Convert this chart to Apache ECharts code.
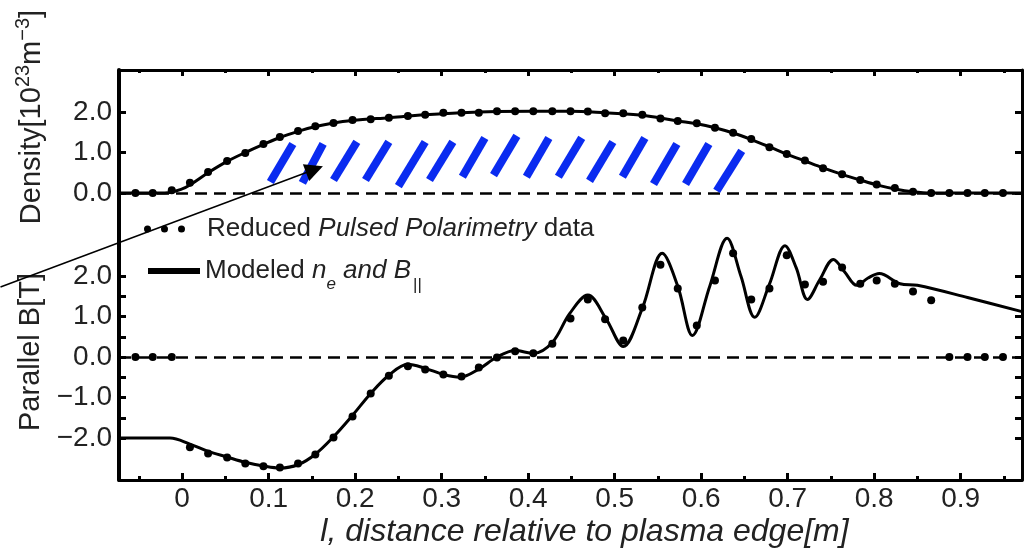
<!DOCTYPE html>
<html>
<head>
<meta charset="utf-8">
<script src="https://cdn.jsdelivr.net/npm/echarts@6.0.0/dist/echarts.min.js"></script>
<style>
    html, body { margin: 0; padding: 0; background: #fff; }
    #chart { width: 1034px; height: 551px; }
</style>
</head>
<body>
<div id="chart"></div>
<script>
// positions of the polarimetry samples along the chord [m]
const sampleX = [-0.054, -0.034, -0.012, 0.009, 0.030, 0.052, 0.073, 0.094, 0.113, 0.134,
    0.154, 0.175, 0.197, 0.218, 0.239, 0.261, 0.281, 0.302, 0.323, 0.343,
    0.364, 0.385, 0.406, 0.428, 0.449, 0.469, 0.489, 0.510, 0.532, 0.553,
    0.573, 0.595, 0.616, 0.637, 0.658, 0.679, 0.699, 0.720, 0.741, 0.763,
    0.784, 0.803, 0.824, 0.845, 0.866, 0.887, 0.908, 0.928, 0.949]
// reduced data, density [1e23 m^-3]
const densityDots = [0, 0, 0.07, 0.25, 0.52, 0.79, 0.99, 1.21, 1.38, 1.53,
    1.65, 1.73, 1.80, 1.82, 1.86, 1.90, 1.93, 1.98, 1.98, 1.98,
    2.02, 2.02, 2.02, 2.02, 2.02, 2.01, 1.97, 1.97, 1.93, 1.84,
    1.78, 1.72, 1.61, 1.49, 1.33, 1.13, 0.96, 0.80, 0.61, 0.46,
    0.32, 0.21, 0.12, 0.03, 0, 0, 0, 0, 0]
// reduced data, parallel B [T]
const bDots = [0, 0, 0, -2.23, -2.38, -2.48, -2.63, -2.70, -2.73, -2.63,
    -2.41, -1.99, -1.47, -0.90, -0.46, -0.23, -0.31, -0.43, -0.48, -0.26,
    -0.01, 0.14, 0.09, 0.33, 0.95, 1.42, 0.93, 0.41, 1.22, 2.28,
    1.69, 0.78, 1.89, 2.56, 1.42, 1.69, 2.51, 1.79, 1.86, 2.21,
    1.81, 1.89, 1.81, 1.62, 1.40, 0, 0, 0, 0]

// modeled profiles
const modelDensityX = [-0.073, -0.02, 0.0, 0.009, 0.030, 0.052, 0.073, 0.094, 0.113, 0.134,
    0.154, 0.175, 0.197, 0.239, 0.281, 0.323, 0.364, 0.406, 0.449, 0.489,
    0.532, 0.553, 0.573, 0.595, 0.616, 0.637, 0.658, 0.679, 0.699, 0.720,
    0.741, 0.763, 0.784, 0.803, 0.824, 0.845, 0.866, 0.971]
const modelDensity = [0, 0, 0.1, 0.2, 0.5, 0.78, 1.0, 1.2, 1.37, 1.52,
    1.64, 1.73, 1.79, 1.86, 1.93, 1.98, 2.01, 2.02, 2.02, 1.98,
    1.92, 1.85, 1.78, 1.71, 1.61, 1.48, 1.32, 1.14, 0.96, 0.79,
    0.62, 0.46, 0.32, 0.2, 0.1, 0.03, 0, 0]
const modelBX = [-0.073, -0.014, 0.009, 0.030, 0.052, 0.073, 0.094, 0.113, 0.134, 0.154,
    0.175, 0.197, 0.218, 0.239, 0.261, 0.281, 0.302, 0.321, 0.343, 0.364,
    0.385, 0.406, 0.428, 0.448, 0.469, 0.490, 0.510, 0.532, 0.555, 0.573,
    0.590, 0.610, 0.630, 0.646, 0.662, 0.679, 0.697, 0.710, 0.723, 0.737,
    0.753, 0.766, 0.780, 0.793, 0.806, 0.830, 0.850, 0.908, 0.971]
const modelB = [-2.0, -2.0, -2.15, -2.33, -2.47, -2.6, -2.69, -2.74, -2.66, -2.4,
    -1.97, -1.44, -0.9, -0.45, -0.18, -0.28, -0.43, -0.5, -0.3, 0.0,
    0.16, 0.09, 0.36, 1.07, 1.53, 0.95, 0.26, 1.2, 2.56, 1.75,
    0.53, 1.75, 2.93, 2.0, 0.98, 1.8, 2.75, 2.2, 1.42, 1.9,
    2.41, 2.1, 1.77, 1.95, 2.06, 1.81, 1.77, 1.47, 1.12]

// blue hatch strokes in the density panel: [x, n] at lower and upper end
const hatchLow = [[0.102, 0.27], [0.139, 0.25], [0.175, 0.32], [0.212, 0.32], [0.250, 0.17],
    [0.286, 0.32], [0.324, 0.40], [0.360, 0.44], [0.398, 0.40], [0.435, 0.40],
    [0.471, 0.30], [0.509, 0.40], [0.545, 0.22], [0.582, 0.22], [0.618, 0.05]]
const hatchHigh = [[0.128, 1.21], [0.163, 1.21], [0.202, 1.26], [0.239, 1.26], [0.281, 1.26],
    [0.313, 1.26], [0.350, 1.36], [0.387, 1.41], [0.424, 1.36], [0.462, 1.36],
    [0.498, 1.26], [0.535, 1.36], [0.572, 1.21], [0.609, 1.21], [0.647, 1.04]]
// arrow from outside the frame to the hatched region
const arrowFrom = [-0.210, -2.32]
const arrowTo = [0.153, 0.58]

const xTicks = [0, 0.1, 0.2, 0.3, 0.4, 0.5, 0.6, 0.7, 0.8, 0.9]
const xMinorTicks = [-0.05, 0.05, 0.15, 0.25, 0.35, 0.45, 0.55, 0.65, 0.75, 0.85, 0.95]
const densityTicks = [0, 1, 2]
const bTicks = [-2, -1.5, -1, -0.5, 0, 0.5, 1, 1.5, 2]
const bLabels = [-2, -1, 0, 1, 2]

const dotsName = 'Reduced Pulsed Polarimetry data'
const lineName = 'Modeled n_e and B_||'
const font = '"Liberation Sans", Arial, sans-serif'
const textColor = '#222'

const zip = (xs, ys) => xs.map((x, i) => [x, ys[i]])
const fmt = v => (v === 0 ? '0.0' : (v < 0 ? '\u2212' : '') + Math.abs(v).toFixed(1))

function xAxisFor(grid, position, ticks, tickLen, main) {
    return {
        type: 'value', gridIndex: grid, position: position,
        min: -0.073, max: 0.971,
        splitLine: {show: false},
        axisLine: {show: main, onZero: false, lineStyle: {color: '#000', width: 3}},
        axisTick: {inside: true, length: tickLen, customValues: ticks, lineStyle: {color: '#000', width: 3}},
        axisLabel: {show: false},
    }
}

function yAxisFor(grid, position, min, max, ticks, labels) {
    return {
        type: 'value', gridIndex: grid, position: position,
        min: min, max: max,
        splitLine: {show: false},
        axisLine: {show: true, onZero: false, lineStyle: {color: '#000', width: position === 'left' ? 4 : 3}},
        axisTick: {inside: true, length: 7, customValues: ticks, lineStyle: {color: '#000', width: 3}},
        axisLabel: labels ? {
            customValues: labels, formatter: fmt, margin: 7,
            fontSize: 28, fontFamily: font, color: textColor,
        } : {show: false},
    }
}

const zeroLine = {
    silent: true, symbol: ['none', 'none'], label: {show: false},
    lineStyle: {color: '#000', width: 2.5, type: [12, 7]},
    data: [{yAxis: 0}],
}

let myChart = echarts.init(document.getElementById('chart'))

const xBottom = xAxisFor(1, 'bottom', xTicks, 7, true)
xBottom.axisLabel = {
    show: true, customValues: xTicks, margin: 5,
    formatter: v => (v === 0 ? '0' : v.toFixed(1)),
    fontSize: 28, fontFamily: font, color: textColor,
}
xBottom.name = 'l, distance relative to plasma edge[m]'
xBottom.nameLocation = 'middle'
xBottom.nameGap = 36
xBottom.nameTextStyle = {fontSize: 32, fontStyle: 'italic', fontFamily: font, color: textColor, padding: [0, 0, 0, 28]}

const yDensity = yAxisFor(0, 'left', -0.519, 3.037, densityTicks, densityTicks)
yDensity.name = '{n|Density[10}{sup|23}{n|m}{sup|\u22123}{n|]}'
yDensity.nameLocation = 'middle'
yDensity.nameGap = 68
yDensity.nameTextStyle = {
    padding: [0, 0, 0, 50],
    rich: {
        n: {fontSize: 29, fontFamily: font, color: textColor},
        sup: {fontSize: 20, fontFamily: font, color: textColor, padding: [0, 0, 18, 0]},
    },
}
const yB = yAxisFor(1, 'left', -3.037, 3.531, bTicks, bLabels)
yB.name = 'Parallel B[T]'
yB.nameLocation = 'middle'
yB.nameGap = 68
yB.nameTextStyle = {fontSize: 29, fontFamily: font, color: textColor, padding: [0, 10, 0, 0]}

myChart.setOption({
    animation: false,
    backgroundColor: '#fff',
    grid: [
        {left: 119, right: 12, top: 70, height: 144},
        {left: 119, right: 12, top: 214, height: 266},
    ],
    xAxis: [
        xAxisFor(0, 'top', xTicks, 6, true),
        xAxisFor(0, 'top', xMinorTicks, 3, false),
        xBottom,
        xAxisFor(1, 'bottom', xMinorTicks, 4, false),
    ],
    yAxis: [
        yDensity,
        yAxisFor(0, 'right', -0.519, 3.037, densityTicks, null),
        yB,
        yAxisFor(1, 'right', -3.037, 3.531, bTicks, null),
    ],
    legend: [
        {
            data: [{
                name: dotsName,
                icon: 'path://M0,3.5a3.5,3.5 0 1,0 7,0a3.5,3.5 0 1,0 -7,0M17,3.5a3.5,3.5 0 1,0 7,0a3.5,3.5 0 1,0 -7,0M34,3.5a3.5,3.5 0 1,0 7,0a3.5,3.5 0 1,0 -7,0',
            }],
            left: 144, top: 216, padding: 0,
            itemWidth: 41, itemHeight: 7, selectedMode: false,
            formatter: () => '{gap|}{n|Reduced }{i|Pulsed Polarimetry}{n| data}',
            textStyle: {
                rich: {
                    gap: {width: 17},
                    n: {fontSize: 26, fontFamily: font, color: textColor},
                    i: {fontSize: 26, fontFamily: font, fontStyle: 'italic', color: textColor},
                },
            },
        },
        {
            data: [{name: lineName, icon: 'rect'}],
            left: 148, top: 258, padding: 0,
            itemWidth: 52, itemHeight: 6, selectedMode: false,
            formatter: () => '{n|Modeled }{i|n}{isub|e}{i| and B}{sub|||}',
            textStyle: {
                rich: {
                    n: {fontSize: 26, fontFamily: font, color: textColor},
                    i: {fontSize: 26, fontFamily: font, fontStyle: 'italic', color: textColor},
                    isub: {fontSize: 17, fontFamily: font, fontStyle: 'italic', color: textColor, padding: [26, 0, 0, 0]},
                    sub: {fontSize: 17, fontFamily: font, color: textColor, padding: [28, 0, 0, 2]},
                },
            },
        },
    ],
    series: [
        {
            name: lineName, type: 'line', xAxisIndex: 0, yAxisIndex: 0,
            data: zip(modelDensityX, modelDensity),
            smooth: 0.35, symbol: 'none', color: '#000',
            lineStyle: {color: '#000', width: 3},
            markLine: zeroLine,
        },
        {
            name: dotsName, type: 'scatter', xAxisIndex: 0, yAxisIndex: 0,
            data: zip(sampleX, densityDots),
            symbolSize: 8, itemStyle: {color: '#000', opacity: 1}, z: 4,
        },
        {
            name: lineName, type: 'line', xAxisIndex: 2, yAxisIndex: 2,
            data: zip(modelBX, modelB),
            smooth: 0.35, symbol: 'none', color: '#000',
            lineStyle: {color: '#000', width: 3},
            markLine: zeroLine,
        },
        {
            name: dotsName, type: 'scatter', xAxisIndex: 2, yAxisIndex: 2,
            data: zip(sampleX, bDots),
            symbolSize: 8, itemStyle: {color: '#000', opacity: 1}, z: 4,
        },
        {
            type: 'lines', coordinateSystem: 'cartesian2d', xAxisIndex: 0, yAxisIndex: 0,
            silent: true, z: 5,
            data: hatchLow.map((p, i) => ({coords: [p, hatchHigh[i]]})),
            lineStyle: {color: '#0a2bf0', width: 8, opacity: 1, curveness: 0},
        },
        {
            type: 'lines', coordinateSystem: 'cartesian2d', xAxisIndex: 0, yAxisIndex: 0,
            silent: true, clip: false, z: 6,
            symbol: ['none', 'triangle'], symbolSize: 18,
            data: [{coords: [arrowFrom, arrowTo]}],
            lineStyle: {color: '#000', width: 1.5, opacity: 1, curveness: 0},
        },
    ],
})
</script>
</body>
</html>
